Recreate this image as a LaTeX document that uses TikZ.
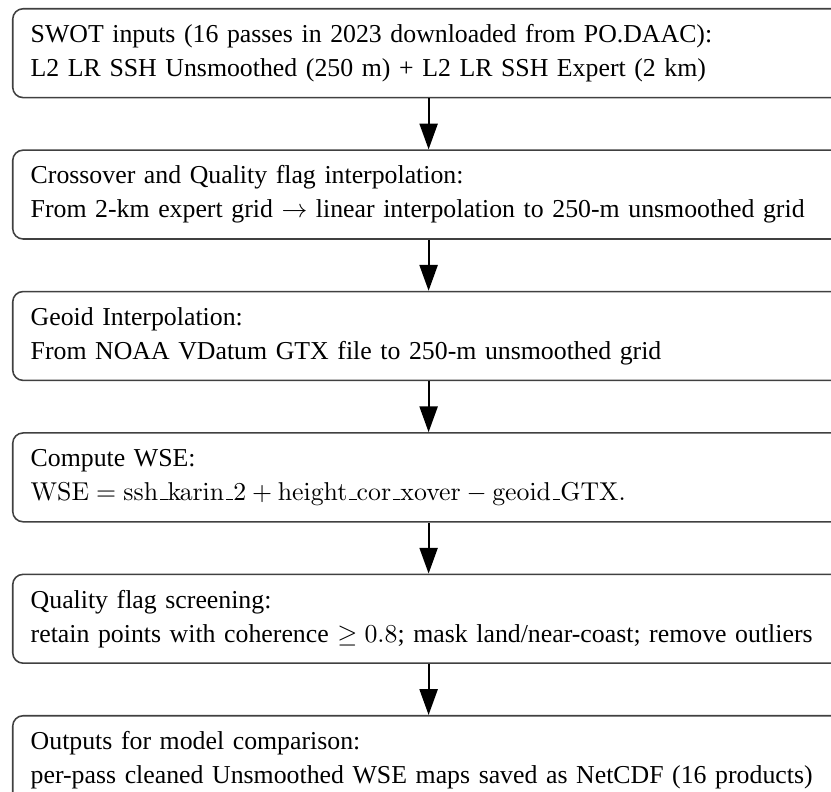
\documentclass[tikz,border=0pt]{standalone}
\usepackage[no-math]{fontspec}
\setmainfont{Liberation Serif}
\usetikzlibrary{arrows.meta,positioning}
% low rule for identifiers inside \mathrm
\newcommand{\uscore}{\kern.06em\vbox{\hrule width.3em}}
\tikzset{
  box/.style={draw=black!75,line width=0.6pt,rounded corners=4pt,align=left,
              text width=10.84cm,minimum height=1.21cm,inner xsep=0.245cm,inner ysep=0pt,
              font=\fontsize{10}{13.2}\selectfont},
  arr/.style={-{Triangle[length=10pt,width=7pt]},line width=0.8pt}
}
\begin{document}
\begin{tikzpicture}[node distance=0.695cm]
  \useasboundingbox (0,0) rectangle (11.32,-10.78);
  \node[box,anchor=north west] (swot) at (0.163,-0.109)
    {SWOT inputs (16 passes in 2023 downloaded from PO.DAAC):\\
     L2 LR SSH Unsmoothed (250 m) + L2 LR SSH Expert (2 km)};
  \node[box,below=of swot] (xover)
    {Crossover and Quality flag interpolation:\\
     From 2-km expert grid $\rightarrow$ linear interpolation to 250-m unsmoothed grid};
  \node[box,below=of xover] (geoid)
    {Geoid Interpolation:\\
     From NOAA VDatum GTX file to 250-m unsmoothed grid};
  \node[box,below=of geoid] (wse)
    {Compute WSE:\\
     $\mathrm{WSE} = \mathrm{ssh\uscore karin\uscore 2} + \mathrm{height\uscore cor\uscore xover} - \mathrm{geoid\uscore GTX}.$};
  \node[box,below=of wse] (qflag)
    {Quality flag screening:\\
     retain points with coherence $\geq 0.8$; mask land/near-coast; remove outliers};
  \node[box,below=of qflag] (outp)
    {Outputs for model comparison:\\
     per-pass cleaned Unsmoothed WSE maps saved as NetCDF (16 products)};
  % downward flow between the stages
  \foreach \a/\b in {swot/xover,xover/geoid,geoid/wse,wse/qflag,qflag/outp}
    \draw[arr] (\a) -- (\b);
\end{tikzpicture}
\end{document}
